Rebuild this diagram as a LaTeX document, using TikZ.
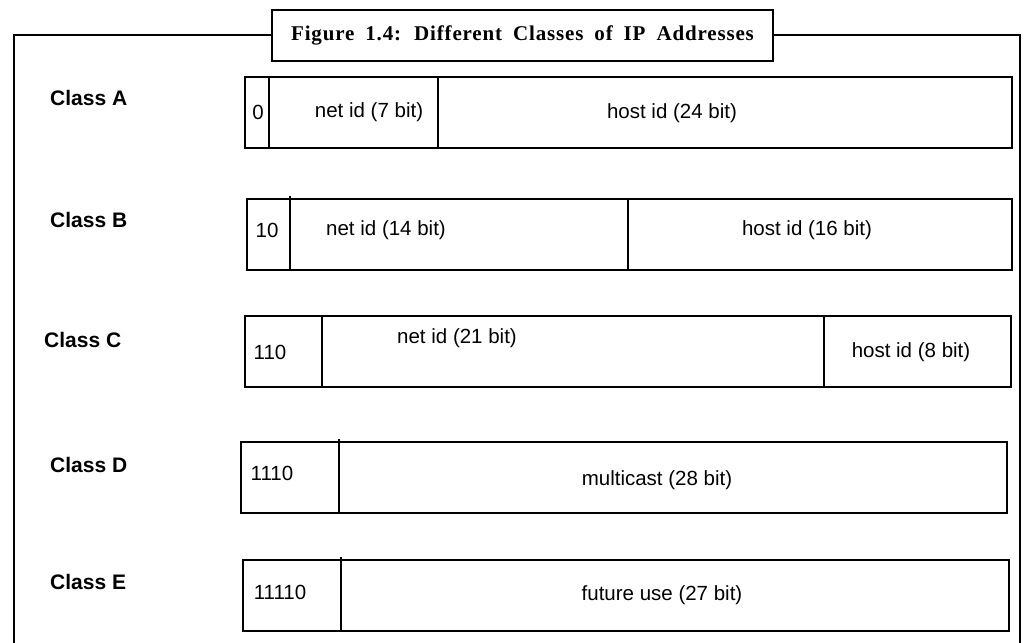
\documentclass[tikz,border=0pt]{standalone}
\usepackage{fontspec}
\setmainfont{Liberation Serif}
\newfontfamily\arialfont{Liberation Sans}
\newfontfamily\titlefont[LetterSpace=4,WordSpace=1.8]{Liberation Serif}
\usetikzlibrary{%
  chains,%
  positioning% wg. " of "
}

\begin{document}
\begin{tikzpicture}[
    x=1pt,y=-1pt,
    line join=miter,
    frame/.style={line width=2pt},
    caption/.style={rectangle,draw,fill=white,line width=2pt,
        minimum width=501pt,minimum height=51pt,inner sep=0pt,
        font=\titlefont\bfseries\fontsize{21}{23}\selectfont},
    field/.style={rectangle,draw,line width=1.8pt,minimum height=71pt,
        inner sep=0pt,outer sep=0pt},
    tick/.style={line width=1.8pt},
    class/.style={anchor=west,inner sep=0pt,
        font=\arialfont\bfseries\fontsize{21}{23}\selectfont},
    bits/.style={inner sep=0pt,font=\arialfont\fontsize{20.5}{22}\selectfont},
    node distance=0pt
  ]
    \useasboundingbox (0,0) rectangle (1032,642);
    \clip (0,0) rectangle (1032,642);

    % Rahmen und Titel
    \draw[frame] (14,700) -- (14,35) -- (1020,35) -- (1020,700);
    \node[caption] (title) at (522.5,35.5)
        {Figure 1.4: Different Classes of IP Addresses};

    % Class A
    \begin{scope}[start chain=going right]
        \node[field,on chain,minimum width=24pt,anchor=north west] (a0) at (245,77) {};
        \node[field,on chain,minimum width=169pt] (a1) {};
        \node[field,on chain,minimum width=574pt] (a2) {};
    \end{scope}
    \node[class] (cA) at (50,98) {Class A};
    \node[bits] (a0t) at (258,112) {0};
    \node[bits] (a1t) at (369,112) {net id (7 bit)};
    \node[bits] (a2t) at (672,113) {host id (24 bit)};

    % Class B
    \begin{scope}[start chain=going right]
        \node[field,on chain,minimum width=43pt,anchor=north west] (b0) at (247,199) {};
        \node[field,on chain,minimum width=338pt] (b1) {};
        \node[field,on chain,minimum width=384pt] (b2) {};
    \end{scope}
    \draw[tick] (b1.north west) -- ++(0,-3);
    \node[class] (cB) at (50,220) {Class B};
    \node[bits] (b0t) at (267,230) {10};
    \node[bits] (b1t) at (386,230) {net id (14 bit)};
    \node[bits] (b2t) at (807,230) {host id (16 bit)};

    % Class C
    \begin{scope}[start chain=going right]
        \node[field,on chain,minimum width=77pt,anchor=north west] (c0) at (245,316) {};
        \node[field,on chain,minimum width=502pt] (c1) {};
        \node[field,on chain,minimum width=187pt] (c2) {};
    \end{scope}
    \node[class] (cC) at (44,340) {Class C};
    \node[bits] (c0t) at (270,352) {110};
    \node[bits] (c1t) at (457,338) {net id (21 bit)};
    \node[bits] (c2t) at (911,352) {host id (8 bit)};

    % Class D
    \begin{scope}[start chain=going right]
        \node[field,on chain,minimum width=98pt,anchor=north west] (d0) at (241,442) {};
        \node[field,on chain,minimum width=668pt] (d1) {};
    \end{scope}
    \draw[tick] (d1.north west) -- ++(0,-3);
    \node[class] (cD) at (50,465) {Class D};
    \node[bits] (d0t) at (272,473) {1110};
    \node[bits] (d1t) at (657,480) {multicast (28 bit)};

    % Class E
    \begin{scope}[start chain=going right]
        \node[field,on chain,minimum width=98pt,anchor=north west] (e0) at (243,560) {};
        \node[field,on chain,minimum width=668pt] (e1) {};
    \end{scope}
    \draw[tick] (e1.north west) -- ++(0,-3);
    \node[class] (cE) at (50,582) {Class E};
    \node[bits] (e0t) at (280,592) {11110};
    \node[bits] (e1t) at (662,595) {future use (27 bit)};
\end{tikzpicture}
\end{document}
